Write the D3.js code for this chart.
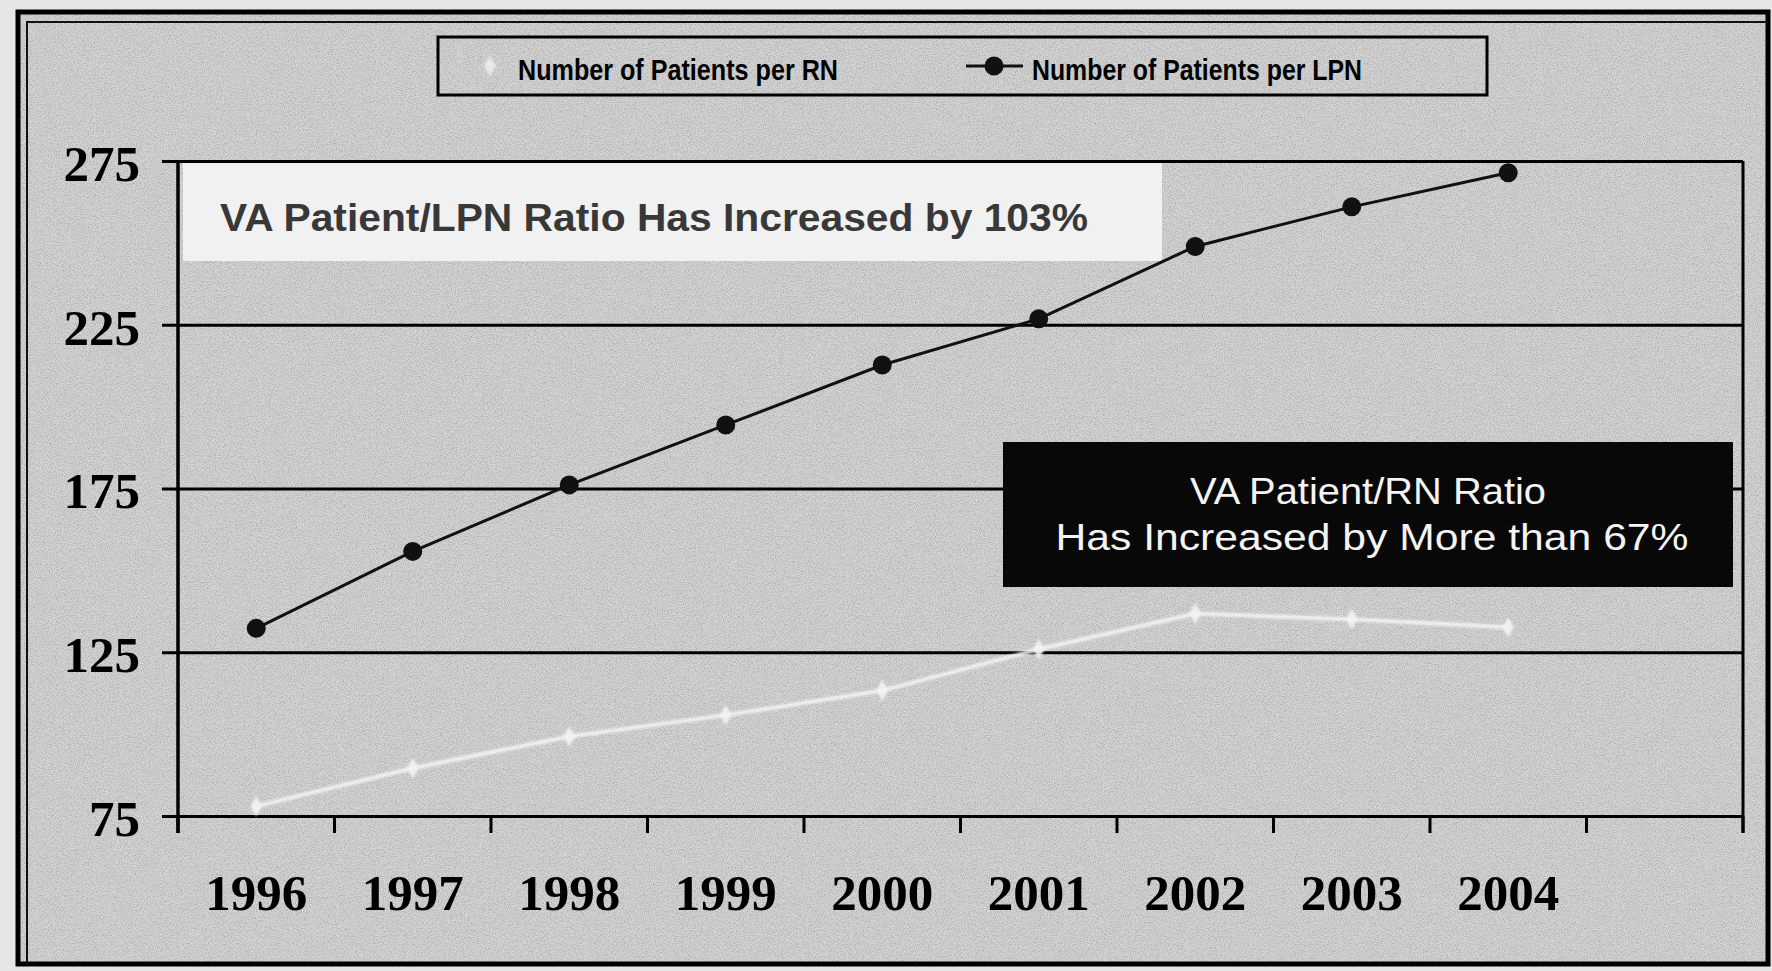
<!DOCTYPE html>
<html>
<head>
<meta charset="utf-8">
<script src="https://cdn.jsdelivr.net/npm/d3@7"></script>
<style>
  html, body { margin: 0; padding: 0; background: #e6e6e6; }
  svg { display: block; }
</style>
</head>
<body>
<svg id="chart" width="1772" height="971"></svg>
<script>
// ---- data ----
const years = ["1996", "1997", "1998", "1999", "2000", "2001", "2002", "2003", "2004"];
const rnValues = [78, 89.6, 99.3, 105.8, 113.3, 125.9, 136.8, 135.1, 132.6];
const lpnValues = [132.3, 155.8, 176.1, 194.4, 212.7, 226.8, 248.9, 261, 271.4];
const yTicks = [75, 125, 175, 225, 275];
const seriesNames = ["Number of Patients per RN", "Number of Patients per LPN"];
const noteLPN = "VA Patient/LPN Ratio Has Increased by 103%";
const noteRN = ["VA Patient/RN Ratio", "Has Increased by More than 67%"];

// ---- layout ----
const plotLeft = 178, plotRight = 1743, plotTop = 161, plotBottom = 816;
const nSlots = 10; // nine years plus one empty slot at the right
const svg = d3.select("#chart");

const defs = svg.append("defs");
const noise = defs.append("filter").attr("id", "grain")
  .attr("x", 0).attr("y", 0).attr("width", "100%").attr("height", "100%");
noise.append("feTurbulence").attr("type", "fractalNoise")
  .attr("baseFrequency", 0.85).attr("numOctaves", 3).attr("seed", 7).attr("result", "n");
noise.append("feColorMatrix").attr("in", "n").attr("type", "matrix")
  .attr("values", "0 0 0 0 0.25  0 0 0 0 0.25  0 0 0 0 0.25  2.2 0 0 0 -0.85");
const soft = defs.append("filter").attr("id", "soft");
soft.append("feGaussianBlur").attr("stdDeviation", 1);

// background
svg.append("rect").attr("x", 18).attr("y", 12).attr("width", 1750).attr("height", 952)
  .attr("fill", "#d5d5d5");
svg.append("rect").attr("x", 18).attr("y", 12).attr("width", 1750).attr("height", 952)
  .attr("fill", "#000").attr("filter", "url(#grain)").attr("opacity", 0.55);

// frame
svg.append("rect").attr("x", 18).attr("y", 12).attr("width", 1750).attr("height", 952)
  .attr("fill", "none").attr("stroke", "#000").attr("stroke-width", 5);
svg.append("path").attr("d", `M27,964 V22 H1768`)
  .attr("fill", "none").attr("stroke", "#111").attr("stroke-width", 2);

// scales
const x = d3.scaleBand().domain(years)
  .range([plotLeft, plotLeft + (plotRight - plotLeft) * years.length / nSlots]);
const y = d3.scaleLinear().domain([75, 275]).range([plotBottom, plotTop]);

// white annotation box (behind lines)
svg.append("rect").attr("x", plotLeft + 5).attr("y", plotTop + 1)
  .attr("width", 979).attr("height", 99).attr("fill", "#f1f1f1");
svg.append("text").attr("x", 220).attr("y", 231)
  .attr("font-family", "Liberation Sans, Arial, sans-serif").attr("font-weight", "bold")
  .attr("font-size", 38).attr("fill", "#383838")
  .attr("textLength", 868).attr("lengthAdjust", "spacingAndGlyphs")
  .text(noteLPN);

// gridlines + y labels
const gy = svg.append("g").attr("transform", `translate(162,0)`)
  .call(d3.axisLeft(y).tickValues(yTicks).tickSize(-(plotRight - 162)).tickPadding(22));
gy.select(".domain").remove();
gy.selectAll(".tick line").attr("stroke", "#000").attr("stroke-width", 3);
gy.selectAll(".tick text")
  .attr("font-family", "Liberation Serif, Times New Roman, serif").attr("font-weight", "bold")
  .attr("font-size", 51).attr("fill", "#000").attr("dy", "0.38em");

// y axis and right border
svg.append("line").attr("x1", plotLeft).attr("x2", plotLeft)
  .attr("y1", plotTop).attr("y2", plotBottom + 17).attr("stroke", "#000").attr("stroke-width", 3.5);
svg.append("line").attr("x1", plotRight).attr("x2", plotRight)
  .attr("y1", plotTop).attr("y2", plotBottom + 17).attr("stroke", "#000").attr("stroke-width", 3);

// x axis labels (centered in bands)
const gx = svg.append("g").attr("transform", `translate(0,${plotBottom})`)
  .call(d3.axisBottom(x).tickSize(0).tickPadding(79));
gx.select(".domain").remove();
gx.selectAll(".tick text")
  .attr("font-family", "Liberation Serif, Times New Roman, serif").attr("font-weight", "bold")
  .attr("font-size", 51).attr("fill", "#000").attr("dy", "0.3em");

// boundary tick marks
const bounds = d3.range(nSlots + 1).map(i => x.range()[0] + i * x.step());
svg.append("g").selectAll("line").data(bounds).join("line")
  .attr("x1", d => d).attr("x2", d => d)
  .attr("y1", plotBottom).attr("y2", plotBottom + 17)
  .attr("stroke", "#000").attr("stroke-width", 3);

// black annotation box
svg.append("rect").attr("x", 1003).attr("y", 442).attr("width", 730).attr("height", 145)
  .attr("fill", "#080808");
const bt = svg.append("g").attr("font-family", "Liberation Sans, Arial, sans-serif")
  .attr("font-size", 36).attr("fill", "#f4f4f4").attr("text-anchor", "middle");
bt.append("text").attr("x", 1368).attr("y", 504)
  .attr("textLength", 356).attr("lengthAdjust", "spacingAndGlyphs").text(noteRN[0]);
bt.append("text").attr("x", 1372).attr("y", 550)
  .attr("textLength", 633).attr("lengthAdjust", "spacingAndGlyphs").text(noteRN[1]);

// RN line (white)
const cx = (d, i) => x(years[i]) + x.bandwidth() / 2;
const line = d3.line().x((d, i) => cx(d, i)).y(d => y(d));
svg.append("path").datum(rnValues).attr("d", line)
  .attr("fill", "none").attr("stroke", "#f4f4f4").attr("stroke-width", 4)
  .attr("opacity", 0.9).attr("filter", "url(#soft)");
svg.append("g").selectAll("path").data(rnValues).join("path")
  .attr("transform", (d, i) => `translate(${cx(d, i)},${y(d)})`)
  .attr("d", d3.symbol(d3.symbolDiamond, 120))
  .attr("fill", "#f4f4f4").attr("opacity", 0.9).attr("filter", "url(#soft)");

// LPN line (black)
svg.append("path").datum(lpnValues).attr("d", line)
  .attr("fill", "none").attr("stroke", "#111").attr("stroke-width", 3);
svg.append("g").selectAll("circle").data(lpnValues).join("circle")
  .attr("cx", (d, i) => cx(d, i)).attr("cy", d => y(d)).attr("r", 9.5)
  .attr("fill", "#111");

// legend
const lg = svg.append("g");
lg.append("rect").attr("x", 438).attr("y", 37).attr("width", 1049).attr("height", 58)
  .attr("fill", "none").attr("stroke", "#000").attr("stroke-width", 3);
lg.append("line").attr("x1", 468).attr("x2", 512).attr("y1", 66).attr("y2", 66)
  .attr("stroke", "#f0f0f0").attr("stroke-width", 4).attr("opacity", 0.8).attr("filter", "url(#soft)");
lg.append("path").attr("transform", "translate(490,66)")
  .attr("d", d3.symbol(d3.symbolDiamond, 120)).attr("fill", "#f0f0f0")
  .attr("opacity", 0.8).attr("filter", "url(#soft)");
lg.append("line").attr("x1", 966).attr("x2", 1023).attr("y1", 66).attr("y2", 66)
  .attr("stroke", "#111").attr("stroke-width", 3);
lg.append("circle").attr("cx", 994).attr("cy", 66).attr("r", 9.5).attr("fill", "#111");
const lt = lg.append("g").attr("font-family", "Liberation Sans Narrow, Arial Narrow, Liberation Sans, Arial, sans-serif")
  .attr("font-weight", "bold").attr("font-size", 30).attr("fill", "#000");
lt.append("text").attr("x", 518).attr("y", 80)
  .attr("textLength", 320).attr("lengthAdjust", "spacingAndGlyphs").text(seriesNames[0]);
lt.append("text").attr("x", 1032).attr("y", 80)
  .attr("textLength", 330).attr("lengthAdjust", "spacingAndGlyphs").text(seriesNames[1]);
</script>
</body>
</html>
